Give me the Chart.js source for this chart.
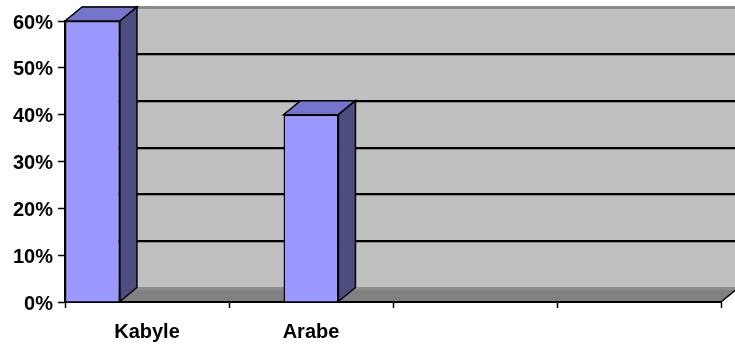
<!DOCTYPE html>
<html>
<head>
  <meta charset="UTF-8">
  <title>Kabyle / Arabe</title>
  <script src="https://cdn.jsdelivr.net/npm/chart.js"></script>
  <style>
    body { margin: 0; background: #fff; }
  </style>
</head>
<body>
  <canvas id="langChart" width="735" height="347"></canvas>
  <script>
    const categories = ['Kabyle', 'Arabe', '', ''];
    const shares = [60, 40, null, null];
    const yMax = 60;
    const yStep = 10;

    // 3D look: depth offset of the back wall
    const DX = 17, DY = -14;

    const box3d = {
      id: 'box3d',
      afterDatasetsUpdate(chart) {
        // first bar sits against the value axis
        const el = chart.getDatasetMeta(0).data[0];
        if (el) el.x = chart.scales.x.left + el.width / 2;
      },
      beforeDraw(chart) {
        const ctx = chart.ctx, a = chart.chartArea, ys = chart.scales.y;
        ctx.save();
        // back wall
        ctx.fillStyle = '#c0c0c0';
        ctx.fillRect(a.left + DX, a.top + DY, a.right - a.left, a.bottom - a.top);
        // left wall
        ctx.beginPath();
        ctx.moveTo(a.left, a.top); ctx.lineTo(a.left + DX, a.top + DY);
        ctx.lineTo(a.left + DX, a.bottom + DY); ctx.lineTo(a.left, a.bottom);
        ctx.closePath(); ctx.fill();
        // floor
        ctx.fillStyle = '#808080';
        ctx.beginPath();
        ctx.moveTo(a.left, a.bottom); ctx.lineTo(a.right, a.bottom);
        ctx.lineTo(a.right + DX, a.bottom + DY); ctx.lineTo(a.left + DX, a.bottom + DY);
        ctx.closePath(); ctx.fill();
        // grid on back wall
        ys.ticks.forEach(t => {
          const yy = Math.round(ys.getPixelForValue(t.value) + DY);
          const edge = t.value === yMax || t.value === 0;
          ctx.fillStyle = '#8c8c8c';
          ctx.fillRect(a.left + DX, yy - 1, a.right - a.left, 3);
          if (!edge) {
            ctx.fillStyle = '#000';
            ctx.fillRect(a.left + DX, yy - 1, a.right - a.left, 2);
          }
        });
        // front-right floor edge
        ctx.strokeStyle = '#000'; ctx.lineWidth = 1.5;
        ctx.beginPath();
        ctx.moveTo(a.right, a.bottom); ctx.lineTo(a.right + DX, a.bottom + DY);
        ctx.stroke();
        ctx.restore();
      },
      afterDatasetsDraw(chart) {
        const ctx = chart.ctx;
        ctx.save();
        ctx.strokeStyle = '#000';
        ctx.lineWidth = 1.5;
        chart.getDatasetMeta(0).data.forEach((el, i) => {
          if (shares[i] == null) return;
          const p = el.getProps(['x', 'y', 'width', 'base'], true);
          const l = p.x - p.width / 2, r = p.x + p.width / 2, t = p.y, b = p.base;
          // top face
          ctx.fillStyle = '#7575cc';
          ctx.beginPath();
          ctx.moveTo(l, t); ctx.lineTo(r, t); ctx.lineTo(r + DX, t + DY); ctx.lineTo(l + DX, t + DY);
          ctx.closePath(); ctx.fill(); ctx.stroke();
          // side face
          ctx.fillStyle = '#4d4d80';
          ctx.beginPath();
          ctx.moveTo(r, t); ctx.lineTo(r + DX, t + DY); ctx.lineTo(r + DX, b + DY); ctx.lineTo(r, b);
          ctx.closePath(); ctx.fill(); ctx.stroke();
        });
        ctx.restore();
      }
    };

    const labelFont = { family: '"Liberation Sans", Arial, sans-serif', size: 20, weight: 'bold' };

    new Chart(document.getElementById('langChart'), {
      type: 'bar',
      data: {
        labels: categories,
        datasets: [{
          data: shares,
          backgroundColor: '#9999ff',
          borderColor: '#000',
          borderWidth: 1.5,
          categoryPercentage: 1,
          barPercentage: 0.335
        }]
      },
      options: {
        responsive: false,
        animation: false,
        layout: { padding: { top: 21, right: 14, left: 0, bottom: 0 } },
        plugins: { legend: { display: false }, tooltip: { enabled: false } },
        scales: {
          x: {
            grid: { offset: true, drawOnChartArea: false, tickLength: 6, tickColor: '#000', tickWidth: 1.5 },
            border: { color: '#000', width: 2 },
            ticks: { color: '#000', font: labelFont, padding: 12, autoSkip: false, maxRotation: 0 },
            afterFit: s => { s.height = 45; }
          },
          y: {
            min: 0, max: yMax,
            grid: { drawOnChartArea: false, tickLength: 7, tickColor: '#000', tickWidth: 1.5 },
            border: { color: '#000', width: 1.5 },
            ticks: { stepSize: yStep, color: '#000', font: labelFont, padding: 5, labelOffset: 2, callback: v => v + '%' },
            afterFit: s => { s.width = 65; }
          }
        }
      },
      plugins: [box3d]
    });
  </script>
</body>
</html>
